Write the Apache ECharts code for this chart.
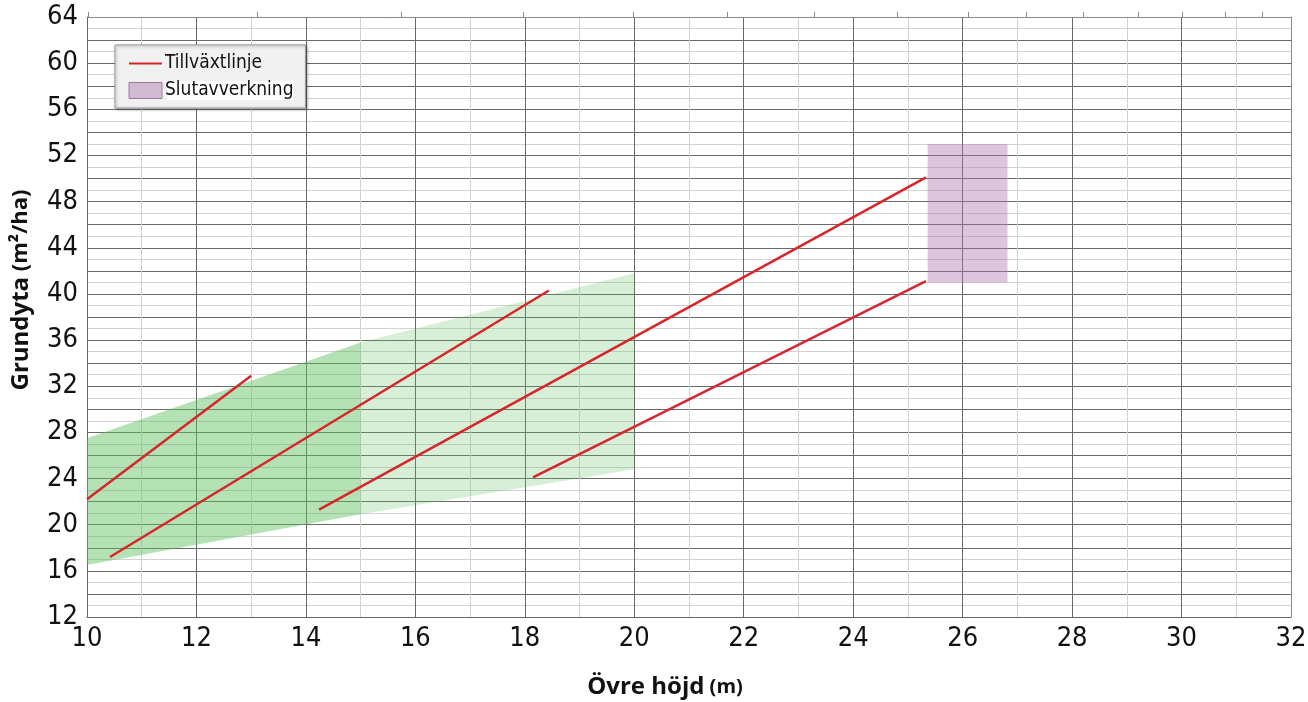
<!DOCTYPE html>
<html>
<head>
<meta charset="utf-8">
<script src="https://cdn.jsdelivr.net/npm/echarts@6/dist/echarts.min.js"></script>
<style>
html,body{margin:0;padding:0;background:#fff;}
#chart{width:1308px;height:702px;}
</style>
</head>
<body>
<div id="chart"></div>
<script>
// ---- data ----
const xTicks = [10, 12, 14, 16, 18, 20, 22, 24, 26, 28, 30, 32];
const yTicks = [12, 16, 20, 24, 28, 32, 36, 40, 44, 48, 52, 56, 60, 64];
const topTickValues = [10.02, 13.12, 15.74, 17.98, 19.98, 21.69, 23.28, 24.8, 26.1, 27.17, 28.2, 29.2, 30.01, 30.79, 31.47];

// green band (gallringsmall)
const bandX = [10, 15, 20];
const bandLower = [16.5, 20.9, 24.8];
const bandUpper = [27.5, 35.8, 41.8];

// growth lines (Tillväxtlinje): [x, y] start/end
const growthLine1 = [[10, 22.2], [13.0, 32.9]];
const growthLine2 = [[10.42, 17.2], [18.44, 40.3]];
const growthLine3 = [[14.24, 21.3], [25.33, 50.1]];
const growthLine4 = [[18.15, 24.1], [25.33, 41.1]];

// final felling box (Slutavverkning): [x0, x1, y0, y1]
const fellingBox = [[25.36, 26.82, 41, 53]];

// ---- chart ----
const chart = echarts.init(document.getElementById('chart'));
const NARROW = "'Liberation Sans Narrow', 'DejaVu Sans Condensed', 'Open Sans'";
const BOLD = "'Open Sans'";
const RED = '#d7262b';

const bandSegments = [];
for (let i = 0; i < bandX.length - 1; i++) {
  bandSegments.push([bandX[i], bandX[i + 1], bandLower[i], bandLower[i + 1], bandUpper[i], bandUpper[i + 1]]);
}
const bandColors = ['rgba(90,190,90,0.45)', 'rgba(90,190,90,0.25)'];

function lineSeries(data) {
  return {
    name: 'Tillväxtlinje', type: 'line', data: data, symbol: 'none',
    lineStyle: { color: RED, width: 2.5 }, itemStyle: { color: RED },
    z: 5, silent: true, animation: false
  };
}

const option = {
  animation: false,
  textStyle: { fontFamily: NARROW },
  grid: { left: 87, right: 17, top: 17, bottom: 85, containLabel: false, outerBoundsMode: 'none' },
  legend: {
    left: 115, top: 45, orient: 'vertical',
    padding: [9, 12, 8, 13],
    itemWidth: 33, itemHeight: 16, itemGap: 8,
    backgroundColor: '#f1f1f1', borderColor: '#9a9a9a', borderWidth: 1,
    shadowColor: 'rgba(0,0,0,0.35)', shadowBlur: 3, shadowOffsetX: 1, shadowOffsetY: 1,
    textStyle: { fontFamily: NARROW, fontSize: 19, color: '#111', padding: [0, 0, 0, -2] },
    data: [
      { name: 'Tillväxtlinje', itemStyle: { opacity: 0 } },
      { name: 'Slutavverkning', icon: 'rect',
        itemStyle: { color: 'rgba(175,120,175,0.45)', borderColor: '#9a7a9a', borderWidth: 1 },
        textStyle: { backgroundColor: '#fff' } }
    ]
  },
  xAxis: [{
    type: 'value', min: 10, max: 32, interval: 2,
    name: '{b|Övre höjd}{s| (m)}', nameLocation: 'middle', nameGap: 58,
    nameTextStyle: { padding: [0, 48, 0, 0], rich: {
      b: { fontFamily: BOLD, fontSize: 24, fontWeight: 'bold', color: '#111' },
      s: { fontFamily: BOLD, fontSize: 20, fontWeight: 'bold', color: '#111' } } },
    axisLine: { show: true, lineStyle: { color: '#666', width: 1 } },
    axisTick: { show: false },
    axisLabel: { fontFamily: NARROW, fontSize: 27, color: '#111', margin: 8,
      customValues: xTicks },
    splitLine: { show: true, lineStyle: { color: '#6a6a6a', width: 1 } },
    minorTick: { show: false, splitNumber: 2 },
    minorSplitLine: { show: true, lineStyle: { color: '#d2d2d2', width: 1 } }
  }, {
    type: 'value', min: 10, max: 32, position: 'top',
    axisLine: { show: true, lineStyle: { color: '#8a8a8a', width: 1 } },
    axisTick: { show: true, inside: false, length: 5, customValues: topTickValues,
      lineStyle: { color: '#8a8a8a' } },
    axisLabel: { show: false },
    splitLine: { show: false }
  }],
  yAxis: [{
    type: 'value', min: 12, max: 64, interval: 2,
    name: '{b|Grundyta}{s| (m²/ha)}', nameLocation: 'middle', nameGap: 54, nameRotate: 90,
    nameTextStyle: { padding: [0, 0, 0, 54], rich: {
      b: { fontFamily: BOLD, fontSize: 24, fontWeight: 'bold', color: '#111' },
      s: { fontFamily: BOLD, fontSize: 22, fontWeight: 'bold', color: '#111' } } },
    axisLine: { show: true, lineStyle: { color: '#666', width: 1 } },
    axisTick: { show: false },
    axisLabel: { fontFamily: NARROW, fontSize: 27, color: '#111', margin: 9,
      customValues: yTicks },
    splitLine: { show: true, lineStyle: { color: '#6a6a6a', width: 1 } },
    minorTick: { show: false, splitNumber: 2 },
    minorSplitLine: { show: true, lineStyle: { color: '#d2d2d2', width: 1 } }
  }, {
    type: 'value', min: 12, max: 64, position: 'right',
    axisLine: { show: true, lineStyle: { color: '#8a8a8a', width: 1 } },
    axisTick: { show: false }, axisLabel: { show: false }, splitLine: { show: false }
  }],
  series: [
    {
      name: 'band', type: 'custom', data: bandSegments, silent: true, z: 1,
      encode: { x: [0, 1], y: [2, 3, 4, 5] },
      renderItem: function (params, api) {
        const x0 = api.value(0), x1 = api.value(1);
        const pts = [
          api.coord([x0, api.value(2)]),
          api.coord([x1, api.value(3)]),
          api.coord([x1, api.value(5)]),
          api.coord([x0, api.value(4)])
        ];
        return { type: 'polygon', shape: { points: pts },
          style: { fill: bandColors[params.dataIndex] || bandColors[1], stroke: null } };
      }
    },
    {
      name: 'Slutavverkning', type: 'custom', data: fellingBox, silent: true, z: 2,
      itemStyle: { color: 'rgba(175,120,175,0.45)' },
      encode: { x: [0, 1], y: [2, 3] },
      renderItem: function (params, api) {
        const p0 = api.coord([api.value(0), api.value(3)]);
        const p1 = api.coord([api.value(1), api.value(2)]);
        return { type: 'rect', shape: { x: p0[0], y: p0[1], width: p1[0] - p0[0], height: p1[1] - p0[1] },
          style: { fill: 'rgba(175,120,175,0.42)' } };
      }
    },
    lineSeries(growthLine1),
    lineSeries(growthLine2),
    lineSeries(growthLine3),
    lineSeries(growthLine4)
  ]
};
chart.setOption(option);
</script>
</body>
</html>
